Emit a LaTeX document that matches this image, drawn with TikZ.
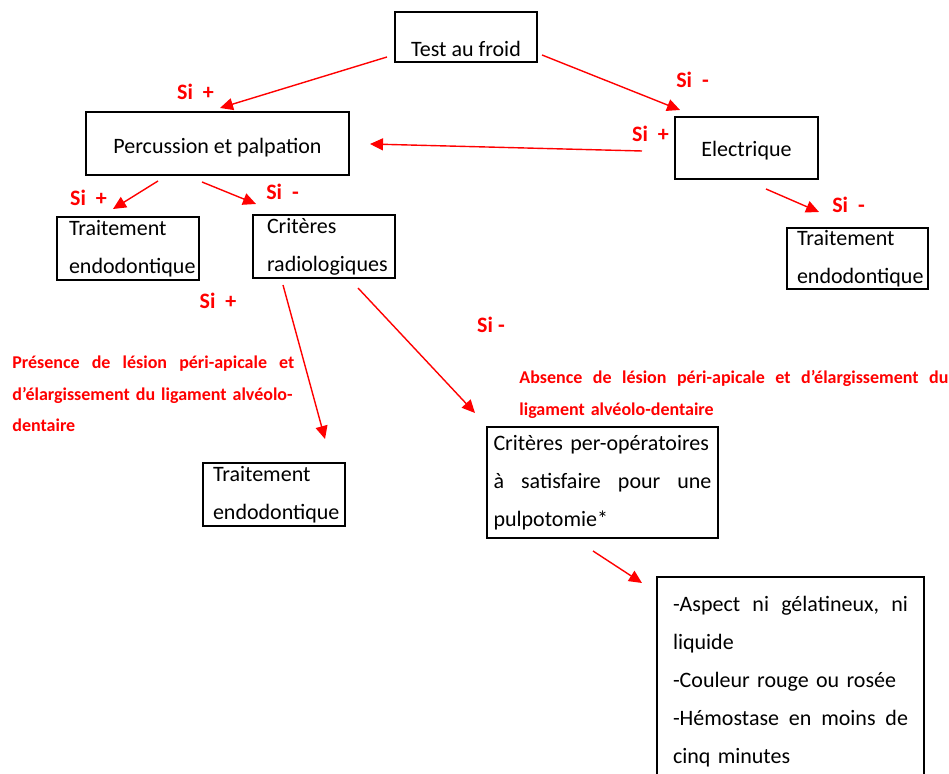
\documentclass[tikz,border=0pt]{standalone}
\usepackage{fontspec}
\setmainfont{Carlito}
\usetikzlibrary{arrows.meta}
\hyphenpenalty=10000
\exhyphenpenalty=10000

\begin{document}
\begin{tikzpicture}[x=0.5pt,y=-0.5pt,
  box/.style={draw,line width=0.9pt,inner ysep=0pt,font=\fontsize{11}{19}\selectfont},
  cond/.style={text=red,inner sep=0pt,font=\fontsize{11}{13}\selectfont\bfseries},
  note/.style={text=red,inner sep=0pt,align=left,anchor=base west,font=\fontsize{9}{15.75}\selectfont\bfseries},
  flow/.style={-{Triangle[length=6.5pt,width=6pt]},red,line width=0.7pt}]

\useasboundingbox (0,0) rectangle (949,774);
\clip (0,0) rectangle (949,774);

\node (TestFroid) at (466,37) [box,minimum width=71pt,minimum height=25pt,text height=22pt,text depth=2.5pt]{Test au froid};
\node (Percussion) at (217.5,143.5) [box,minimum width=131.5pt,minimum height=31.5pt,text height=13pt,text depth=2.5pt]{Percussion et palpation};
\node (Electrique) at (746.5,148) [box,minimum width=71.5pt,minimum height=31pt,text height=11.5pt,text depth=2.5pt]{Electrique};
\node (TraitementA) at (128,248.5) [box,minimum width=71pt,minimum height=31.5pt,text width=59pt,align=left]{Traitement\\endodontique};
\node (Radio) at (324,246.5) [box,minimum width=71pt,minimum height=31.5pt,text width=57pt,align=left]{Critères\\radiologiques};
\node (TraitementB) at (857.5,258.5) [box,minimum width=70.5pt,minimum height=30.5pt,text width=60.5pt,align=left]{Traitement\\endodontique};
\node (TraitementC) at (274,494.5) [box,minimum width=71pt,minimum height=31.5pt,text width=61pt,align=left]{Traitement\\endodontique};
\node (PerOp) at (602.5,482.5) [box,minimum width=115.5pt,minimum height=55.5pt,text width=109pt,align=left]{Critères per-opératoires\\à\hfill satisfaire\hfill pour\hfill une\\pulpotomie*};
\node (Aspect) at (790.5,682) [box,minimum width=133.5pt,minimum height=105pt,text width=117.5pt,align=left]{-Aspect\hfill ni\hfill gélatineux,\hfill ni\\liquide\\-Couleur rouge ou rosée\\-Hémostase\hfill en\hfill moins\hfill de\\cinq minutes};

% conditions
\node (SiPlusFroid) at (195.5,92) [cond]{Si~~+};
\node (SiMoinsFroid) at (692.5,80) [cond]{Si~~-};
\node (SiPlusElec) at (650.5,134) [cond]{Si~~+};
\node (SiPlusPerc) at (88.5,198) [cond]{Si~~+};
\node (SiMoinsPerc) at (282.5,192) [cond]{Si~~-};
\node (SiMoinsElec) at (848.5,205) [cond]{Si~~-};
\node (SiPlusRadio) at (218,301) [cond]{Si~~+};
\node (SiMoinsRadio) at (491,325) [cond]{Si -};

\node (Presence) at (12,369) [note,text width=141pt]{Présence\hfill de\hfill lésion\hfill péri-apicale\hfill et\\d’élargissement du ligament alvéolo-\\dentaire};
\node (Absence) at (519,384) [note,text width=214.5pt]{Absence\hfill de\hfill lésion\hfill péri-apicale\hfill et\hfill d’élargissement\hfill du\\ligament alvéolo-dentaire};

% arrow ends
\coordinate (FroidOut1) at (387,57);
\coordinate (PercIn1) at (220,108);
\coordinate (FroidOut2) at (542,55);
\coordinate (ElecIn) at (680,110);
\coordinate (ElecOut1) at (642,151);
\coordinate (PercIn2) at (370,144);
\coordinate (PercOut1) at (158,181);
\coordinate (TraitAIn) at (113,209);
\coordinate (PercOut2) at (202,182);
\coordinate (RadioIn) at (256,204);
\coordinate (ElecOut2) at (766,189);
\coordinate (TraitBIn) at (819,212);
\coordinate (RadioOut1) at (283,285);
\coordinate (TraitCIn) at (325,439);
\coordinate (RadioOut2) at (358,288);
\coordinate (PerOpIn) at (475,413);
\coordinate (PerOpOut) at (593,551);
\coordinate (AspectIn) at (642,583);

\draw [flow] (FroidOut1) -- (PercIn1);
\draw [flow] (FroidOut2) -- (ElecIn);
\draw [flow] (ElecOut1) -- (PercIn2);
\draw [flow] (PercOut1) -- (TraitAIn);
\draw [flow] (PercOut2) -- (RadioIn);
\draw [flow] (ElecOut2) -- (TraitBIn);
\draw [flow] (RadioOut1) -- (TraitCIn);
\draw [flow] (RadioOut2) -- (PerOpIn);
\draw [flow] (PerOpOut) -- (AspectIn);

\end{tikzpicture}
\end{document}
